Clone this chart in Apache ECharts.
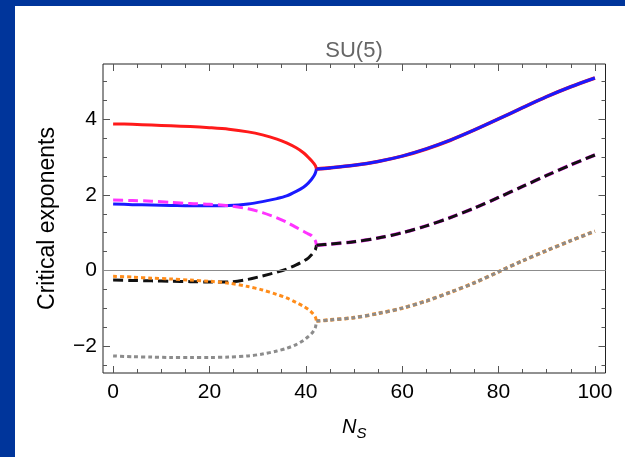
<!DOCTYPE html>
<html>
<head>
<meta charset="utf-8">
<script src="https://cdn.jsdelivr.net/npm/echarts@6/dist/echarts.min.js"></script>
<style>
  html, body { margin: 0; padding: 0; background: #00359b; }
  #panel { position: absolute; left: 15px; top: 6px; right: 0; bottom: 0; background: #fff; }
  #chart { position: absolute; left: 0; top: 0; width: 625px; height: 457px; }
</style>
</head>
<body>
<div id="panel"></div>
<div id="chart"></div>
<script>
// N_S sample points before the branch point (x ≈ 42.2)
const nsLow = [0, 4, 8, 12, 16, 20, 24, 28, 31, 34, 36, 38, 39.5, 40.5, 41.2, 41.7, 42, 42.2];
// real exponents on the low-N_S side
const redLow     = [3.87, 3.86, 3.84, 3.82, 3.80, 3.77, 3.73, 3.66, 3.58, 3.47, 3.37, 3.24, 3.11, 2.99, 2.90, 2.82, 2.76, 2.68];
const blueLow    = [1.76, 1.74, 1.73, 1.72, 1.71, 1.71, 1.72, 1.76, 1.82, 1.90, 1.97, 2.09, 2.20, 2.31, 2.41, 2.50, 2.58, 2.68];
const magentaLow = [1.86, 1.85, 1.83, 1.80, 1.77, 1.75, 1.71, 1.63, 1.53, 1.39, 1.28, 1.14, 1.04, 0.97, 0.92, 0.84, 0.78, 0.67];
const blackLow   = [-0.25, -0.26, -0.27, -0.28, -0.29, -0.30, -0.30, -0.23, -0.14, -0.04, 0.04, 0.15, 0.25, 0.33, 0.42, 0.50, 0.56, 0.67];
const orangeLow  = [-0.15, -0.17, -0.20, -0.22, -0.25, -0.28, -0.33, -0.42, -0.51, -0.63, -0.72, -0.84, -0.94, -1.02, -1.10, -1.17, -1.23, -1.33];
const grayLow    = [-2.25, -2.27, -2.28, -2.29, -2.29, -2.29, -2.28, -2.25, -2.20, -2.12, -2.05, -1.95, -1.84, -1.74, -1.66, -1.57, -1.49, -1.33];

// N_S sample points after the branch point: pairs merge into complex exponents (real parts)
const nsHigh = [42.2, 45, 50, 55, 60, 65, 70, 75, 80, 85, 90, 95, 100];
const pairHigh1 = [2.68, 2.71, 2.78, 2.88, 3.02, 3.21, 3.44, 3.71, 4.00, 4.30, 4.59, 4.85, 5.08];
const pairHigh2 = [0.67, 0.70, 0.76, 0.86, 1.00, 1.18, 1.40, 1.65, 1.93, 2.22, 2.51, 2.79, 3.05];
const pairHigh3 = [-1.33, -1.30, -1.24, -1.13, -0.99, -0.80, -0.57, -0.32, -0.03, 0.26, 0.53, 0.79, 1.04];

// axis ticks
const xMajor = [0, 20, 40, 60, 80, 100];
const xMinor = [5, 10, 15, 25, 30, 35, 45, 50, 55, 65, 70, 75, 85, 90, 95];
const yMajor = [-2, 0, 2, 4];
const yMinor = [-2.5, -1.5, -1, -0.5, 0.5, 1, 1.5, 2.5, 3, 3.5, 4.5, 5];

const X_MIN = -2.1, X_MAX = 102.2, Y_MIN = -2.7, Y_MAX = 5.45;
const tickColor = '#555';
const fontFamily = '"Liberation Sans", Arial, sans-serif';

const zip = (xs, ys) => xs.map((x, i) => [x, ys[i]]);

function xAxisDef(position, values, len, labels) {
  return {
    type: 'value', position, min: X_MIN, max: X_MAX,
    axisLine: { show: false, onZero: false },
    splitLine: { show: false },
    axisTick: { show: true, inside: true, length: len, customValues: values,
                lineStyle: { color: tickColor, width: 1 } },
    axisLabel: labels ? { show: true, customValues: values, fontSize: 21, color: '#000',
                          fontFamily, margin: 9 } : { show: false }
  };
}
function yAxisDef(position, values, len, labels) {
  return {
    type: 'value', position, min: Y_MIN, max: Y_MAX,
    axisLine: { show: false, onZero: false },
    splitLine: { show: false },
    axisTick: { show: true, inside: true, length: len, customValues: values,
                lineStyle: { color: tickColor, width: 1 } },
    axisLabel: labels ? { show: true, customValues: values, fontSize: 21, color: '#000',
                          fontFamily, margin: 6,
                          formatter: v => (v < 0 ? '\u2212' + Math.abs(v) : String(v)) } : { show: false }
  };
}

const xAxes = [
  xAxisDef('bottom', xMajor, 7, true),
  xAxisDef('bottom', xMinor, 4, false),
  xAxisDef('top', xMajor, 7, false),
  xAxisDef('top', xMinor, 4, false)
];
xAxes[0].name = '{n|N}{s|S}';
xAxes[0].nameLocation = 'middle';
xAxes[0].nameGap = 44;
xAxes[0].nameTextStyle = {
  rich: {
    n: { fontSize: 20, fontStyle: 'italic', fontFamily, color: '#000', lineHeight: 24, verticalAlign: 'top' },
    s: { fontSize: 15, fontStyle: 'italic', fontFamily, color: '#000', lineHeight: 24, padding: [9, 0, 0, 0] }
  }
};
const yAxes = [
  yAxisDef('left', yMajor, 7, true),
  yAxisDef('left', yMinor, 4, false),
  yAxisDef('right', yMajor, 7, false),
  yAxisDef('right', yMinor, 4, false)
];
yAxes[0].name = 'Critical exponents';
yAxes[0].nameLocation = 'middle';
yAxes[0].nameGap = 44;
yAxes[0].nameTextStyle = { fontSize: 23, fontFamily, color: '#000' };

function line(data, color, width, type, z) {
  return {
    type: 'line', data, xAxisIndex: 0, yAxisIndex: 0, showSymbol: false, symbol: 'none',
    smooth: 0.3, silent: true, animation: false, z,
    lineStyle: { color, width, type, cap: 'butt', join: 'round' }
  };
}
const dashed = [10, 5];
const dotted = [4, 3];

const series = [
  // zero reference line
  {
    type: 'line', data: [], xAxisIndex: 0, yAxisIndex: 0, silent: true, animation: false, z: 1,
    markLine: { silent: true, symbol: ['none', 'none'], label: { show: false },
                lineStyle: { color: '#8c8c8c', width: 1, type: 'solid' },
                data: [{ yAxis: 0 }] }
  },
  line(zip(nsLow, redLow), '#ff1a1a', 3, 'solid', 3),
  line(zip(nsLow, blueLow), '#1a1aff', 3, 'solid', 3),
  line(zip(nsLow, magentaLow), '#ff33ff', 3, dashed, 3),
  line(zip(nsLow, blackLow), '#111', 3, dashed, 3),
  line(zip(nsLow, orangeLow), '#ff8c1a', 3, dotted, 3),
  line(zip(nsLow, grayLow), '#8c8c8c', 3, dotted, 3),
  // complex pairs: both members share one real part, drawn on top of each other
  line(zip(nsHigh, pairHigh1), '#ff1a1a', 3.6, 'solid', 3),
  line(zip(nsHigh, pairHigh1), '#1a1aff', 3, 'solid', 4),
  line(zip(nsHigh, pairHigh2), '#ff33ff', 3.6, dashed, 3),
  line(zip(nsHigh, pairHigh2), '#111', 3, dashed, 4),
  line(zip(nsHigh, pairHigh3), '#ff8c1a', 3.6, dotted, 3),
  line(zip(nsHigh, pairHigh3), '#8c8c8c', 3, dotted, 4)
];

const chart = echarts.init(document.getElementById('chart'), null, { renderer: 'canvas' });
chart.setOption({
  backgroundColor: 'transparent',
  animation: false,
  grid: { left: 103, top: 64, width: 502.5, height: 309, show: true,
          borderColor: '#222', borderWidth: 1, backgroundColor: 'transparent' },
  graphic: [{
    type: 'text', x: 354, y: 51, z: 10,
    style: { text: 'SU(5)', fill: '#666', fontSize: 22, fontFamily,
             textAlign: 'center', textVerticalAlign: 'middle' }
  }],
  xAxis: xAxes,
  yAxis: yAxes,
  series
});
</script>
</body>
</html>
